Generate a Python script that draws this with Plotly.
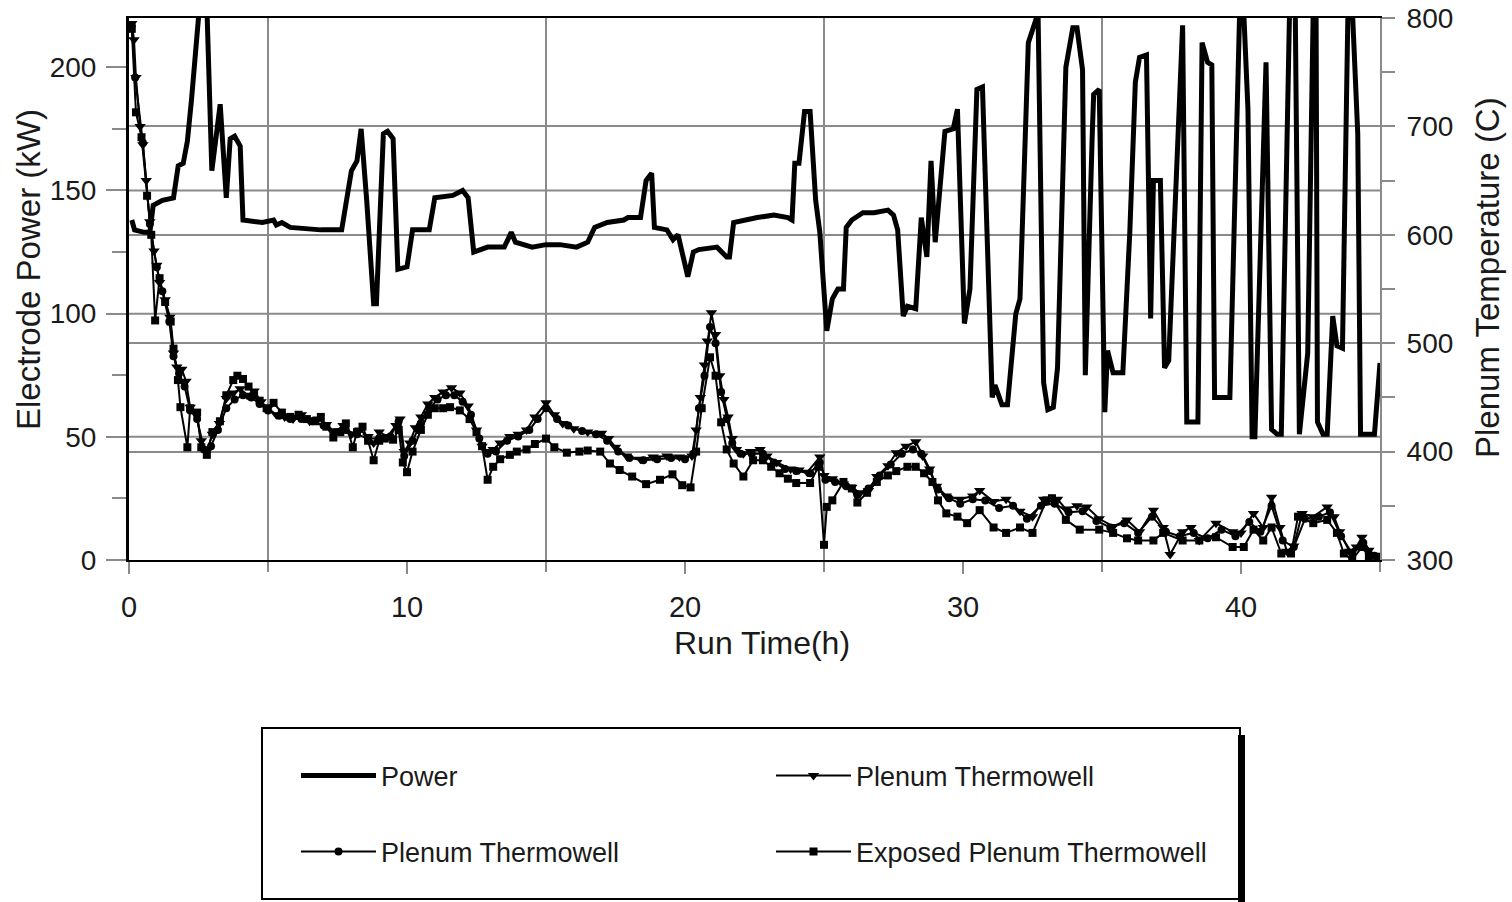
import plotly.graph_objects as go

# ---------------- data ----------------
power_t = [0.1, 0.2, 0.55, 0.75, 0.87, 1.2, 1.6, 1.77, 1.95, 2.1, 2.25, 2.45, 2.65, 2.8, 2.98, 3.28, 3.5, 3.64, 3.8, 4.0,
           4.1, 4.8, 5.2, 5.3, 5.5, 5.8, 6.9, 7.65, 8.0, 8.2, 8.35, 8.55, 8.8, 8.9, 9.15, 9.3, 9.5, 9.67, 10.0, 10.2,
           10.8, 11.0, 11.65, 12.0, 12.2, 12.4, 12.9, 13.5, 13.75, 13.9, 14.5, 15.0, 15.5, 16.1, 16.5, 16.75, 17.2, 17.8, 17.95, 18.4,
           18.6, 18.8, 18.9, 19.35, 19.57, 19.75, 20.1, 20.3, 20.5, 21.15, 21.5, 21.6, 21.75, 22.6, 23.2, 23.7, 23.85, 23.95, 24.1, 24.3,
           24.5, 24.7, 24.85, 25.1, 25.3, 25.5, 25.7, 25.8, 26.0, 26.4, 26.8, 27.3, 27.5, 27.65, 27.85, 28.0, 28.3, 28.5, 28.7, 28.85,
           29.0, 29.35, 29.65, 29.8, 30.05, 30.25, 30.5, 30.7, 31.05, 31.15, 31.4, 31.6, 31.9, 32.05, 32.35, 32.7, 32.9, 33.05, 33.25, 33.4,
           33.7, 33.95, 34.1, 34.3, 34.4, 34.65, 34.7, 34.9, 35.1, 35.2, 35.4, 35.75, 36.0, 36.2, 36.35, 36.6, 36.75, 36.85, 37.1, 37.25,
           37.4, 37.9, 38.05, 38.45, 38.6, 38.8, 38.95, 39.05, 39.6, 39.95, 40.1, 40.25, 40.4, 40.5, 40.9, 41.1, 41.3, 41.45, 41.75, 41.95,
           42.1, 42.4, 42.6, 42.7, 42.75, 42.95, 43.1, 43.3, 43.45, 43.65, 43.85, 44.0, 44.2, 44.3, 44.8, 45.0]
power_kw = [138, 134, 133, 133, 144, 146, 147, 160, 161, 170, 187, 215, 240, 225, 158, 185, 147, 171, 172, 168,
            138, 137, 138, 136, 137, 135, 134, 134, 158, 162, 175, 146, 104, 104, 173, 174, 171, 118, 119, 134,
            134, 147, 148, 150, 147, 125, 127, 127, 133, 129, 127, 128, 128, 127, 129, 135, 137, 138, 139, 139,
            154, 157, 135, 134, 130, 132, 115, 125, 126, 127, 123, 123, 137, 139, 140, 139, 138, 161, 161, 182,
            182, 146, 133, 93, 106, 110, 110, 135, 138, 141, 141, 142, 140, 134, 99, 103, 102, 139, 123, 162,
            129, 174, 175, 183, 96, 110, 191, 192, 66, 71, 63, 63, 100, 106, 210, 222, 72, 61, 62, 78,
            200, 216, 216, 199, 75, 173, 189, 191, 60, 85, 76, 76, 133, 194, 204, 205, 98, 154, 154, 78,
            81, 217, 56, 56, 210, 202, 201, 66, 66, 222, 222, 183, 50, 50, 202, 53, 51, 51, 225, 225,
            51, 84, 225, 225, 56, 51, 51, 99, 87, 86, 225, 225, 173, 51, 51, 80]

tw1_t = [0.1, 0.18, 0.25, 0.4, 0.5, 0.62, 0.75, 0.9, 1.0, 1.1, 1.3, 1.47, 1.6, 1.72, 1.9, 2.05, 2.2, 2.4, 2.6, 2.8,
         3.0, 3.25, 3.5, 3.75, 4.0, 4.25, 4.5, 4.75, 5.0, 5.3, 5.6, 5.9, 6.2, 6.5, 6.8, 7.1, 7.4, 7.7, 8.0, 8.3,
         8.6, 8.8, 9.0, 9.3, 9.6, 9.75, 9.9, 10.1, 10.3, 10.5, 10.75, 11.0, 11.3, 11.6, 11.9, 12.2, 12.5, 12.7, 12.9, 13.1,
         13.35, 13.7, 14.0, 14.3, 14.6, 15.0, 15.3, 15.6, 16.0, 16.5, 17.0, 17.25, 17.5, 17.9, 18.4, 18.85, 19.35, 19.8, 20.25, 20.4,
         20.55, 20.7, 20.8, 20.95, 21.1, 21.25, 21.4, 21.55, 21.7, 21.85, 22.1, 22.35, 22.7, 22.95, 23.3, 23.8, 24.1, 24.4, 24.85, 25.0,
         25.3, 25.7, 26.0, 26.3, 26.6, 26.9, 27.3, 27.6, 27.95, 28.3, 28.55, 28.8, 29.05, 29.4, 29.9, 30.35, 30.6, 31.1, 31.55, 32.05,
         32.5, 32.9, 33.4, 33.7, 34.1, 34.45, 34.9, 35.4, 35.9, 36.35, 36.85, 37.2, 37.45, 37.9, 38.2, 38.5, 39.1, 39.7, 40.0, 40.45,
         40.8, 41.1, 41.4, 41.65, 41.9, 42.2, 42.6, 43.1, 43.35, 43.55, 43.9, 44.15, 44.35, 44.6, 44.9]
tw1_c = [795, 780, 745, 700, 683, 650, 612, 585, 572, 556, 540, 524, 491, 478, 476, 465, 441, 436, 410, 400,
         416, 426, 449, 454, 458, 452, 456, 446, 440, 434, 432, 430, 434, 428, 430, 425, 418, 424, 416, 420,
         414, 408, 418, 414, 424, 430, 400, 408, 422, 432, 444, 450, 455, 459, 454, 442, 420, 405, 400, 402,
         408, 414, 416, 420, 432, 445, 434, 426, 421, 418, 417, 412, 404, 396, 393, 395, 396, 395, 396, 420,
         450, 480, 502, 528, 508, 470, 448, 432, 412, 402, 398, 400, 402, 396, 390, 384, 383, 381, 395, 378,
         375, 370, 367, 362, 364, 377, 387, 399, 405, 409, 396, 384, 368, 359, 356, 359, 364, 354, 356, 345,
         340, 356, 356, 347, 350, 349, 338, 331, 337, 326, 346, 330, 305, 326, 330, 318, 334, 326, 325, 343,
         330, 358, 330, 308, 313, 343, 340, 349, 340, 326, 308, 312, 321, 309, 303]

tw2_t = [0.1, 0.22, 0.5, 0.75, 1.0, 1.2, 1.45, 1.6, 1.8, 2.0, 2.2, 2.45, 2.7, 2.95, 3.2, 3.5, 3.8, 4.1, 4.4, 4.7,
         5.0, 5.4, 5.8, 6.2, 6.6, 7.0, 7.4, 7.8, 8.2, 8.6, 9.0, 9.4, 9.7, 9.9, 10.2, 10.5, 10.8, 11.1, 11.4, 11.7,
         12.0, 12.3, 12.6, 12.9, 13.2, 13.6, 14.0, 14.4, 14.7, 15.0, 15.4, 15.8, 16.3, 16.8, 17.2, 17.6, 18.0, 18.5, 19.0, 19.5,
         20.0, 20.3, 20.5, 20.7, 20.9, 21.1, 21.3, 21.5, 21.7, 22.0, 22.4, 22.8, 23.2, 23.6, 24.0, 24.5, 24.85, 25.05, 25.4, 25.8,
         26.2, 26.6, 27.0, 27.4, 27.8, 28.2, 28.5, 28.8, 29.1, 29.5, 29.9, 30.35, 30.8, 31.3, 31.8, 32.3, 32.8, 33.3, 33.8, 34.3,
         34.8, 35.3, 35.8, 36.3, 36.8, 37.3, 37.8, 38.3, 38.8, 39.3, 39.8, 40.3, 40.7, 41.1, 41.5, 41.9, 42.3, 42.8, 43.2, 43.6,
         44.0, 44.4, 44.8]
tw2_c = [793, 745, 685, 610, 570, 548, 520, 488, 472, 460, 438, 430, 402, 405, 420, 440, 448, 452, 450, 444,
         438, 433, 430, 430, 428, 424, 418, 420, 416, 412, 412, 414, 428, 396, 410, 426, 440, 448, 452, 452,
         446, 434, 412, 398, 400, 410, 414, 420, 430, 440, 430, 424, 419, 416, 410, 400, 394, 392, 393, 394,
         393, 398, 440, 470, 515, 500, 455, 430, 408, 398, 398, 398, 390, 384, 382, 380, 390, 374, 372, 368,
         360, 366, 378, 388, 398, 402, 398, 382, 365, 357, 352, 356, 355, 348, 350, 338, 350, 352, 344, 345,
         336, 330, 334, 325, 340, 326, 322, 325, 320, 328, 322, 335, 326, 350, 318, 312, 338, 340, 344, 322,
         306, 316, 304]

exp_t = [0.1, 0.25, 0.45, 0.65, 0.8, 0.94, 1.1, 1.3, 1.5, 1.6, 1.76, 1.85, 2.1, 2.2, 2.45, 2.6, 2.8, 3.0, 3.27, 3.5,
         3.75, 3.9, 4.1, 4.3, 4.5, 4.7, 4.95, 5.2, 5.5, 5.8, 6.1, 6.4, 6.7, 6.9, 7.1, 7.35, 7.6, 7.8, 8.05, 8.2,
         8.4, 8.6, 8.8, 9.0, 9.2, 9.5, 9.7, 9.85, 10.0, 10.2, 10.5, 10.75, 11.0, 11.3, 11.55, 11.9, 12.25, 12.5, 12.7, 12.9,
         13.1, 13.35, 13.7, 13.95, 14.3, 14.6, 15.0, 15.3, 15.75, 16.2, 16.5, 16.95, 17.3, 17.65, 18.1, 18.6, 19.1, 19.55, 19.9, 20.2,
         20.4, 20.6, 20.9, 21.1, 21.3, 21.5, 21.75, 22.1, 22.45, 22.8, 23.1, 23.4, 23.7, 24.0, 24.5, 24.8, 25.0, 25.1, 25.3, 25.7,
         26.0, 26.2, 26.55, 26.9, 27.3, 27.6, 28.0, 28.3, 28.6, 28.9, 29.1, 29.4, 29.8, 30.15, 30.6, 31.1, 31.55, 32.05, 32.5, 33.0,
         33.2, 33.7, 34.2, 34.9, 35.4, 35.9, 36.3, 36.85, 37.2, 37.9, 38.5, 39.1, 39.7, 40.1, 40.45, 40.8, 41.1, 41.45, 41.8, 42.05,
         42.6, 43.1, 43.45, 43.7, 44.0, 44.35, 44.6, 44.9]
exp_c = [790, 713, 690, 636, 600, 521, 560, 538, 520, 495, 466, 441, 404, 440, 436, 404, 397, 418, 428, 452,
         466, 470, 467, 460, 452, 447, 440, 445, 436, 432, 434, 430, 428, 432, 423, 413, 418, 426, 404, 418,
         423, 410, 392, 410, 412, 411, 420, 390, 381, 400, 420, 434, 440, 440, 441, 438, 430, 418, 405, 374,
         386, 393, 397, 400, 402, 407, 412, 404, 399, 400, 401, 400, 389, 383, 377, 370, 374, 379, 369, 367,
         400, 440, 487, 470, 427, 402, 389, 377, 392, 392, 386, 380, 375, 371, 371, 386, 314, 349, 355, 372,
         366, 353, 362, 372, 378, 382, 386, 386, 380, 372, 355, 343, 340, 334, 346, 330, 325, 330, 325, 355,
         357, 337, 328, 328, 325, 320, 318, 318, 325, 318, 318, 321, 312, 312, 328, 318, 330, 306, 306, 340,
         334, 337, 325, 306, 300, 312, 303, 303]

x_ticks = [0, 10, 20, 30, 40]
kw_ticks = [0, 50, 100, 150, 200]
kw_grid = [50, 100, 150]
temp_ticks = [300, 400, 500, 600, 700, 800]

FONT = "Liberation Sans, Arial, sans-serif"
GRID = "#8a8a8a"
TXT = "#1a1a1a"

fig = go.Figure()
fig.add_trace(go.Scatter(x=power_t, y=power_kw, name="Power", mode="lines", showlegend=True,
                         line=dict(color="black", width=5), yaxis="y", legend="legend"))
fig.add_trace(go.Scatter(x=tw1_t, y=tw1_c, name="Plenum Thermowell", mode="lines+markers", showlegend=True,
                         line=dict(color="black", width=2),
                         marker=dict(symbol="triangle-down", size=10, color="black"),
                         yaxis="y2", legend="legend2"))
fig.add_trace(go.Scatter(x=tw2_t, y=tw2_c, name="Plenum Thermowell", mode="lines+markers", showlegend=True,
                         line=dict(color="black", width=2),
                         marker=dict(symbol="circle", size=8, color="black"),
                         yaxis="y2", legend="legend3"))
fig.add_trace(go.Scatter(x=exp_t, y=exp_c, name="Exposed Plenum Thermowell", mode="lines+markers", showlegend=True,
                         line=dict(color="black", width=2),
                         marker=dict(symbol="square", size=8, color="black"),
                         yaxis="y2", legend="legend4"))

W, H = 1512, 902
ML, MR, MT, MB = 129, 132, 18, 342
PW, PH = W - ML - MR, H - MT - MB


def px2paper(px, py):
    return (px - ML) / PW, (H - MB - py) / PH


shapes = []
for v in kw_grid:
    shapes.append(dict(type="line", xref="paper", yref="y", x0=0, x1=1, y0=v, y1=v,
                       line=dict(color=GRID, width=2), layer="below"))
# legend frame + shadow
bx0, by0 = px2paper(262, 728)
bx1, by1 = px2paper(1240, 899)
shapes.append(dict(type="rect", xref="paper", yref="paper", x0=bx0, x1=bx1, y0=by1, y1=by0,
                   line=dict(color="black", width=2), fillcolor="white", layer="below"))
sx0, sy0 = px2paper(1238, 735)
sx1, sy1 = px2paper(1245, 902)
shapes.append(dict(type="rect", xref="paper", yref="paper", x0=sx0, x1=sx1, y0=sy1, y1=sy0,
                   line=dict(width=0), fillcolor="black", layer="below"))


def leg(xpx, ypx):
    return dict(xref="container", yref="container", x=xpx / W, y=1 - ypx / H,
                xanchor="left", yanchor="middle", bgcolor="rgba(0,0,0,0)", borderwidth=0,
                font=dict(family=FONT, size=27, color=TXT), itemwidth=75)


annotations = []
lx, ly = px2paper(28, 270)
annotations.append(dict(text="Electrode Power (kW)", xref="paper", yref="paper", x=lx, y=ly,
                        xanchor="center", yanchor="middle", textangle=-90, showarrow=False,
                        font=dict(size=33, family=FONT, color=TXT)))
rx, ry = px2paper(1487, 278)
annotations.append(dict(text="Plenum Temperature (C)", xref="paper", yref="paper", x=rx, y=ry,
                        xanchor="center", yanchor="middle", textangle=-90, showarrow=False,
                        font=dict(size=33, family=FONT, color=TXT)))
tx, ty = px2paper(762, 643)
annotations.append(dict(text="Run Time(h)", xref="paper", yref="paper", x=tx, y=ty,
                        xanchor="center", yanchor="middle", showarrow=False,
                        font=dict(size=32, family=FONT, color=TXT)))

fig.update_layout(
    width=W, height=H,
    margin=dict(l=ML, r=MR, t=MT, b=MB, autoexpand=False),
    paper_bgcolor="white", plot_bgcolor="white",
    font=dict(family=FONT, color=TXT),
    shapes=shapes,
    annotations=annotations,
    showlegend=True,
    legend=leg(296, 776),
    legend2=leg(771, 776),
    legend3=leg(296, 852),
    legend4=leg(771, 852),
    xaxis=dict(range=[0, 45], tickmode="array", tickvals=x_ticks, showgrid=False,
               ticks="outside", ticklen=12, tickwidth=2, tickcolor=GRID, ticklabelstandoff=8,
               showline=True, linecolor="black", linewidth=2, mirror=True, zeroline=False,
               tickfont=dict(size=29, family=FONT, color=TXT),
               minor=dict(tick0=5, dtick=10, showgrid=True, gridcolor=GRID, gridwidth=2,
                          ticks="outside", ticklen=10, tickcolor=GRID, tickwidth=2),
               automargin=False),
    yaxis=dict(range=[0, 220], tickmode="array", tickvals=kw_ticks, showgrid=False, zeroline=False,
               ticks="outside", ticklen=20, tickwidth=2, tickcolor=GRID, ticklabelstandoff=4,
               showline=True, linecolor="black", linewidth=3,
               tickfont=dict(size=28, family=FONT, color=TXT),
               minor=dict(tick0=0, dtick=25, ticks="outside", ticklen=14, tickcolor=GRID, tickwidth=2,
                          showgrid=False),
               automargin=False),
    yaxis2=dict(range=[300, 800], overlaying="y", side="right", tickmode="array", tickvals=temp_ticks,
                showgrid=True, gridcolor=GRID, gridwidth=2, zeroline=False,
                ticks="outside", ticklen=13, tickwidth=2, tickcolor=GRID, ticklabelstandoff=6,
                showline=True, linecolor=GRID, linewidth=2,
                tickfont=dict(size=28, family=FONT, color=TXT),
                minor=dict(tick0=300, dtick=50, ticks="outside", ticklen=13, tickcolor=GRID, tickwidth=2,
                           showgrid=False),
                automargin=False),
)

fig.write_html("out.html")
